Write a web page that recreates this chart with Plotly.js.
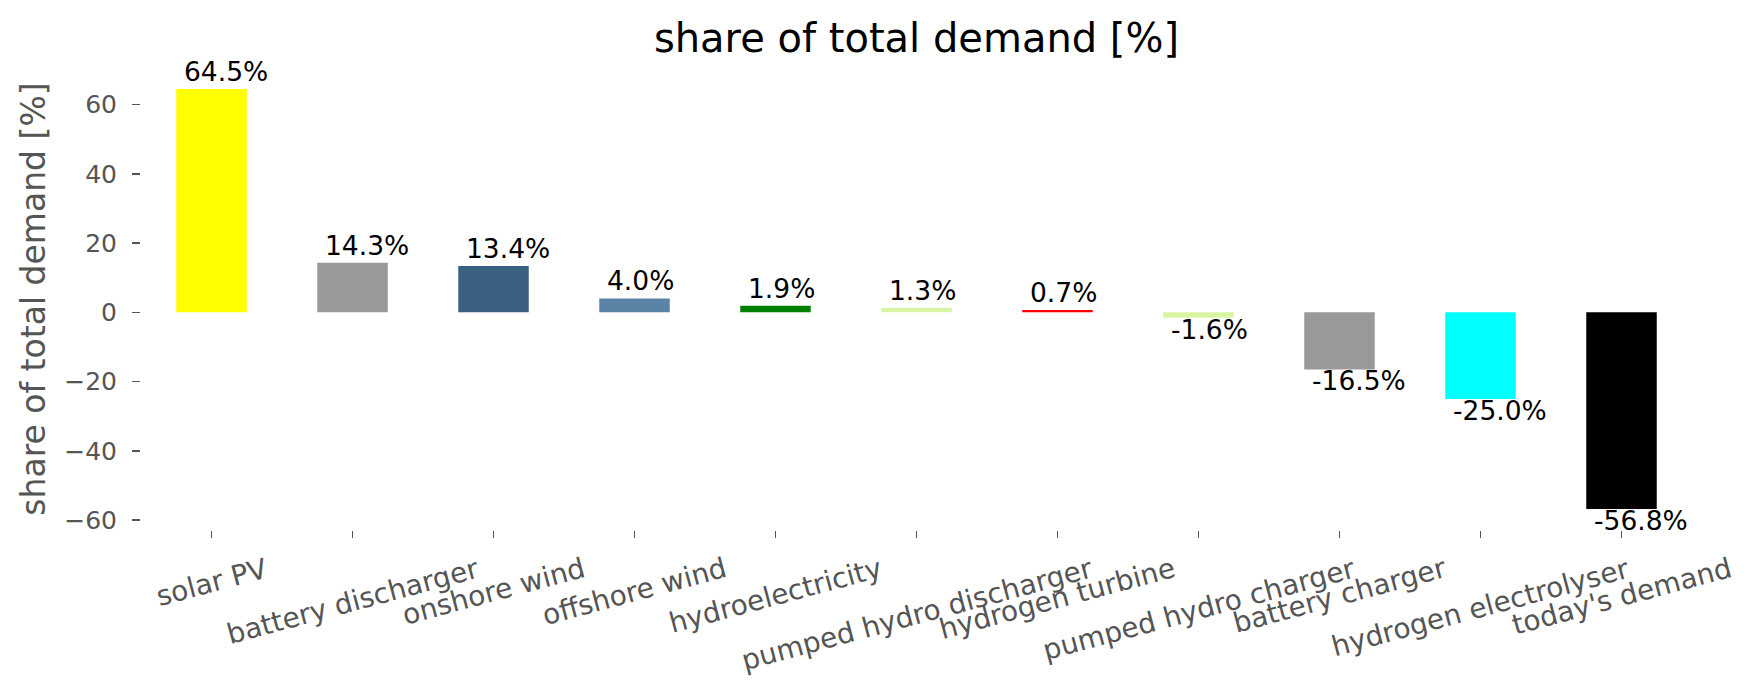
<!DOCTYPE html>
<html>
<head>
<meta charset="utf-8">
<script src="https://cdn.plot.ly/plotly-3.0.1.min.js"></script>
<style>
  html, body { margin: 0; padding: 0; background: #fff; }
  #chart { width: 1753px; height: 689px; }
</style>
</head>
<body>
<div id="chart"></div>
<script>
// Share of total demand per carrier
const CATEGORIES = [
  'solar PV', 'battery discharger', 'onshore wind', 'offshore wind',
  'hydroelectricity', 'pumped hydro discharger', 'hydrogen turbine',
  'pumped hydro charger', 'battery charger', 'hydrogen electrolyser',
  "today's demand",
];
const SHARES = [64.5, 14.3, 13.4, 4.0, 1.9, 1.3, 0.7, -1.6, -16.5, -25.0, -56.8];
const BAR_COLORS = [
  '#ffff00', '#999999', '#3b6182', '#5b83a5', '#008000', '#d9f5a3',
  '#ff0000', '#d9f5a3', '#999999', '#00ffff', '#000000',
];
const Y_TICKS = [-60, -40, -20, 0, 20, 40, 60];

const FONT = 'DejaVu Sans, sans-serif';
const GREY = '#555555';

const trace = {
  type: 'bar',
  x: CATEGORIES,
  y: SHARES,
  width: 0.5,
  marker: { color: BAR_COLORS, line: { width: 0 } },
  hoverinfo: 'x+y',
};

// bar value labels, above positive bars and below negative ones
const valueLabels = SHARES.map((v, i) => ({
  x: i - 0.25,
  y: v,
  xref: 'x', yref: 'y',
  text: v.toFixed(1) + '%',
  showarrow: false,
  xanchor: 'left',
  yanchor: v >= 0 ? 'bottom' : 'top',
  xshift: 6,
  yshift: v >= 0 ? 0 : 6,
  font: { family: FONT, size: 26.5, color: '#000' },
}));

// category labels, centred under the ticks and tilted like the original
const tickLabels = CATEGORIES.map(c => ({
  x: c,
  y: 0,
  xref: 'x', yref: 'paper',
  text: c,
  showarrow: false,
  textangle: -15,
  xanchor: 'center',
  yanchor: 'top',
  yshift: -19,
  font: { family: FONT, size: 28, color: GREY },
}));

const layout = {
  width: 1753,
  height: 689,
  paper_bgcolor: '#fff',
  plot_bgcolor: '#fff',
  font: { family: FONT, color: GREY },
  showlegend: false,
  margin: { l: 141, r: 61, t: 68, b: 159 },
  title: {
    text: 'share of total demand [%]',
    font: { family: FONT, size: 40, color: '#000' },
    x: 0.5, xref: 'paper',
    y: 1 - 38 / 689, yref: 'container', yanchor: 'middle',
  },
  xaxis: {
    type: 'category',
    range: [-0.5, CATEGORIES.length - 0.5],
    showticklabels: false,
    ticks: 'outside',
    ticklen: 7,
    tickwidth: 1.5,
    tickcolor: GREY,
    showgrid: false,
    zeroline: false,
    showline: false,
  },
  yaxis: {
    range: [-62.87, 70.57],
    tickvals: Y_TICKS,
    ticks: 'outside',
    ticklen: 8,
    tickwidth: 1.5,
    tickcolor: GREY,
    ticklabelstandoff: 10,
    tickfont: { family: FONT, size: 25, color: GREY },
    showgrid: false,
    zeroline: false,
    showline: false,
    title: {
      text: 'share of total demand [%]',
      font: { family: FONT, size: 33, color: GREY },
      standoff: 8,
    },
  },
  annotations: valueLabels.concat(tickLabels),
};

Plotly.newPlot('chart', [trace], layout, { displayModeBar: false, staticPlot: true });
</script>
</body>
</html>
